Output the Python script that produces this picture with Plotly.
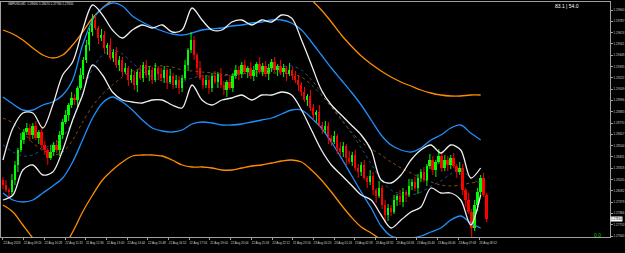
import plotly.graph_objects as go

# ---------------- data ----------------
# candles, one every 3 minutes
open_ = [1.2820,1.2815,1.2810,1.2808,1.2820,1.2835,1.2850,1.2860,1.2868,1.2872,
         1.2865,1.2874,1.2862,1.2868,1.2855,1.2850,1.2842,1.2848,1.2855,1.2850,
         1.2865,1.2878,1.2885,1.2895,1.2902,1.2900,1.2912,1.2925,1.2940,1.2955,
         1.2968,1.2980,1.2972,1.2962,1.2965,1.2952,1.2955,1.2942,1.2948,1.2935,
         1.2940,1.2928,1.2932,1.2920,1.2925,1.2915,1.2928,1.2922,1.2935,1.2925,
         1.2930,1.2920,1.2932,1.2926,1.2922,1.2930,1.2918,1.2924,1.2915,1.2920,
         1.2912,1.2922,1.2935,1.2950,1.2960,1.2945,1.2932,1.2922,1.2915,1.2920,
         1.2912,1.2924,1.2918,1.2926,1.2915,1.2910,1.2918,1.2912,1.2924,1.2930,
         1.2926,1.2935,1.2928,1.2932,1.2924,1.2930,1.2936,1.2928,1.2934,1.2926,
         1.2932,1.2938,1.2930,1.2934,1.2928,1.2932,1.2926,1.2930,1.2924,1.2920,
         1.2915,1.2908,1.2900,1.2904,1.2892,1.2885,1.2888,1.2875,1.2870,1.2874,
         1.2862,1.2858,1.2864,1.2852,1.2848,1.2854,1.2842,1.2838,1.2845,1.2832,
         1.2828,1.2835,1.2822,1.2818,1.2824,1.2810,1.2804,1.2812,1.2795,1.2785,
         1.2792,1.2788,1.2800,1.2804,1.2798,1.2808,1.2805,1.2814,1.2818,1.2812,
         1.2822,1.2828,1.2820,1.2834,1.2840,1.2830,1.2838,1.2844,1.2832,1.2840,
         1.2835,1.2842,1.2834,1.2828,1.2832,1.2810,1.2800,1.2788,1.2772,1.2795,
         1.2808,1.2822,1.2805]
close = [1.2815,1.2810,1.2808,1.2820,1.2835,1.2850,1.2860,1.2868,1.2872,1.2865,
         1.2874,1.2862,1.2868,1.2855,1.2850,1.2842,1.2848,1.2855,1.2850,1.2865,
         1.2878,1.2885,1.2895,1.2902,1.2900,1.2912,1.2925,1.2940,1.2955,1.2968,
         1.2980,1.2972,1.2962,1.2965,1.2952,1.2955,1.2942,1.2948,1.2935,1.2940,
         1.2928,1.2932,1.2920,1.2925,1.2915,1.2928,1.2922,1.2935,1.2925,1.2930,
         1.2920,1.2932,1.2926,1.2922,1.2930,1.2918,1.2924,1.2915,1.2920,1.2912,
         1.2922,1.2935,1.2950,1.2960,1.2945,1.2932,1.2922,1.2915,1.2920,1.2912,
         1.2924,1.2918,1.2926,1.2915,1.2910,1.2918,1.2912,1.2924,1.2930,1.2926,
         1.2935,1.2928,1.2932,1.2924,1.2930,1.2936,1.2928,1.2934,1.2926,1.2932,
         1.2938,1.2930,1.2934,1.2928,1.2932,1.2926,1.2930,1.2924,1.2920,1.2915,
         1.2908,1.2900,1.2904,1.2892,1.2885,1.2888,1.2875,1.2870,1.2874,1.2862,
         1.2858,1.2864,1.2852,1.2848,1.2854,1.2842,1.2838,1.2845,1.2832,1.2828,
         1.2835,1.2822,1.2818,1.2824,1.2810,1.2804,1.2812,1.2795,1.2785,1.2792,
         1.2788,1.2800,1.2804,1.2798,1.2808,1.2805,1.2814,1.2818,1.2812,1.2822,
         1.2828,1.2820,1.2834,1.2840,1.2830,1.2838,1.2844,1.2832,1.2840,1.2835,
         1.2842,1.2834,1.2828,1.2832,1.2810,1.2800,1.2788,1.2772,1.2795,1.2808,
         1.2822,1.2805,1.2781]
high = [1.2823,1.2820,1.2812,1.2826,1.2839,1.2852,1.2867,1.2871,1.2877,1.2876,
        1.2877,1.2879,1.2870,1.2874,1.2859,1.2852,1.2855,1.2858,1.2860,1.2869,
        1.2881,1.2890,1.2897,1.2908,1.2906,1.2914,1.2932,1.2943,1.2960,1.2972,
        1.2986,1.2985,1.2974,1.2971,1.2969,1.2957,1.2962,1.2951,1.2953,1.2944,
        1.2943,1.2937,1.2934,1.2931,1.2929,1.2930,1.2935,1.2938,1.2940,1.2934,
        1.2933,1.2937,1.2934,1.2932,1.2934,1.2932,1.2931,1.2927,1.2925,1.2924,
        1.2925,1.2940,1.2952,1.2968,1.2964,1.2947,1.2939,1.2925,1.2925,1.2924,
        1.2927,1.2929,1.2928,1.2932,1.2919,1.2920,1.2925,1.2927,1.2935,1.2934,
        1.2938,1.2940,1.2934,1.2938,1.2934,1.2938,1.2943,1.2937,1.2939,1.2936,
        1.2941,1.2943,1.2936,1.2940,1.2936,1.2934,1.2937,1.2933,1.2929,1.2924,
        1.2918,1.2913,1.2906,1.2910,1.2896,1.2890,1.2895,1.2878,1.2879,1.2878,
        1.2865,1.2869,1.2866,1.2858,1.2858,1.2856,1.2849,1.2848,1.2850,1.2836,
        1.2838,1.2840,1.2824,1.2830,1.2828,1.2812,1.2819,1.2815,1.2800,1.2796,
        1.2795,1.2805,1.2806,1.2810,1.2812,1.2810,1.2821,1.2821,1.2823,1.2826,
        1.2831,1.2833,1.2836,1.2846,1.2844,1.2840,1.2851,1.2847,1.2845,1.2844,
        1.2845,1.2847,1.2836,1.2838,1.2836,1.2812,1.2807,1.2791,1.2800,1.2812,
        1.2825,1.2827,1.2807]
low = [1.2811,1.2808,1.2802,1.2805,1.2815,1.2828,1.2848,1.2856,1.2865,1.2859,
       1.2861,1.2860,1.2856,1.2852,1.2845,1.2835,1.2840,1.2844,1.2847,1.2844,
       1.2861,1.2876,1.2879,1.2892,1.2895,1.2893,1.2910,1.2921,1.2937,1.2949,
       1.2964,1.2970,1.2956,1.2959,1.2947,1.2945,1.2940,1.2938,1.2932,1.2929,
       1.2924,1.2926,1.2914,1.2917,1.2910,1.2908,1.2920,1.2918,1.2922,1.2919,
       1.2916,1.2918,1.2920,1.2919,1.2917,1.2911,1.2916,1.2911,1.2912,1.2906,
       1.2908,1.2920,1.2929,1.2947,1.2940,1.2925,1.2920,1.2911,1.2912,1.2906,
       1.2908,1.2916,1.2912,1.2912,1.2905,1.2903,1.2910,1.2908,1.2921,1.2920,
       1.2922,1.2926,1.2922,1.2921,1.2919,1.2923,1.2926,1.2924,1.2923,1.2920,
       1.2928,1.2928,1.2924,1.2925,1.2923,1.2919,1.2924,1.2920,1.2917,1.2909,
       1.2904,1.2898,1.2894,1.2889,1.2880,1.2878,1.2873,1.2866,1.2867,1.2856,
       1.2854,1.2856,1.2846,1.2845,1.2843,1.2835,1.2836,1.2834,1.2829,1.2822,
       1.2824,1.2820,1.2812,1.2815,1.2805,1.2797,1.2802,1.2791,1.2777,1.2779,
       1.2784,1.2786,1.2794,1.2795,1.2793,1.2798,1.2803,1.2810,1.2809,1.2806,
       1.2818,1.2818,1.2814,1.2831,1.2825,1.2823,1.2836,1.2828,1.2829,1.2829,
       1.2831,1.2832,1.2822,1.2825,1.2805,1.2793,1.2786,1.2763,1.2769,1.2789,
       1.2804,1.2803,1.2778]

# indicator bands, one sample every 10 minutes
white_upper = [1.2840,1.2872,1.2887,1.2887,1.2872,1.2895,1.2925,1.2938,1.2970,1.2995,
               1.2985,1.2970,1.2962,1.2970,1.2975,1.2972,1.2975,1.2968,1.2970,1.2992,
               1.2980,1.2970,1.2970,1.2978,1.2980,1.2975,1.2980,1.2978,1.2985,1.2982,
               1.2960,1.2935,1.2910,1.2895,1.2885,1.2875,1.2865,1.2850,1.2820,1.2817,
               1.2825,1.2840,1.2850,1.2855,1.2847,1.2855,1.2850,1.2822,1.2832]
white_lower = [1.2800,1.2805,1.2830,1.2835,1.2825,1.2828,1.2850,1.2880,1.2905,1.2935,
               1.2925,1.2908,1.2900,1.2898,1.2897,1.2900,1.2900,1.2895,1.2892,1.2915,
               1.2900,1.2895,1.2900,1.2902,1.2905,1.2900,1.2905,1.2905,1.2908,1.2905,
               1.2890,1.2870,1.2850,1.2835,1.2825,1.2815,1.2805,1.2800,1.2785,1.2772,
               1.2780,1.2788,1.2793,1.2812,1.2807,1.2807,1.2800,1.2775,1.2805]
blue_upper = [1.2903,1.2896,1.2890,1.2890,1.2895,1.2898,1.2905,1.2920,1.2955,1.2980,
              1.2992,1.2997,1.2994,1.2984,1.2978,1.2973,1.2969,1.2966,1.2965,1.2967,
              1.2970,1.2971,1.2972,1.2974,1.2975,1.2977,1.2978,1.2980,1.2980,1.2977,
              1.2970,1.2958,1.2945,1.2932,1.2920,1.2908,1.2895,1.2880,1.2865,1.2855,
              1.2850,1.2848,1.2852,1.2860,1.2865,1.2872,1.2875,1.2867,1.2860]
blue_lower = [1.2807,1.2800,1.2798,1.2800,1.2807,1.2814,1.2822,1.2838,1.2860,1.2882,
              1.2897,1.2903,1.2898,1.2890,1.2880,1.2872,1.2869,1.2868,1.2870,1.2876,
              1.2878,1.2877,1.2875,1.2875,1.2876,1.2878,1.2880,1.2882,1.2886,1.2890,
              1.2890,1.2882,1.2872,1.2858,1.2842,1.2825,1.2808,1.2792,1.2774,1.2764,
              1.2762,1.2762,1.2764,1.2768,1.2772,1.2780,1.2784,1.2777,1.2772]
orange_upper = [1.2970,1.2966,1.2960,1.2952,1.2945,1.2942,1.2945,1.2955,1.2968,1.2982,
                1.2992,1.3000,1.3008,1.3014,1.3018,1.3022,1.3024,1.3025,1.3025,1.3024,
                1.3023,1.3022,1.3021,1.3020,1.3020,1.3019,1.3018,1.3016,1.3014,1.3012,
                1.3008,1.3000,1.2990,1.2978,1.2965,1.2954,1.2944,1.2936,1.2929,1.2923,
                1.2918,1.2914,1.2910,1.2907,1.2905,1.2904,1.2904,1.2905,1.2905]
orange_lower = [1.2795,1.2788,1.2775,1.2762,1.2752,1.2748,1.2752,1.2768,1.2788,1.2805,
                1.2820,1.2830,1.2838,1.2844,1.2845,1.2845,1.2844,1.2840,1.2835,1.2833,
                1.2833,1.2832,1.2830,1.2830,1.2832,1.2834,1.2835,1.2837,1.2839,1.2840,
                1.2838,1.2830,1.2820,1.2808,1.2795,1.2783,1.2773,1.2767,1.2760,1.2752,
                1.2746,1.2742,1.2738,1.2735,1.2733,1.2732,1.2732,1.2732,1.2732]
orange_mid = [1.2882,1.2877,1.2868,1.2857,1.2850,1.2845,1.2848,1.2860,1.2878,1.2894,
              1.2906,1.2915,1.2923,1.2929,1.2932,1.2934,1.2934,1.2933,1.2930,1.2929,
              1.2928,1.2927,1.2926,1.2925,1.2926,1.2927,1.2927,1.2927,1.2927,1.2926,
              1.2923,1.2915,1.2905,1.2893,1.2880,1.2868,1.2858,1.2851,1.2845,1.2838,
              1.2832,1.2827,1.2822,1.2818,1.2815,1.2814,1.2815,1.2817,1.2818]
blue_mid = [1.2855,1.2848,1.2844,1.2845,1.2851,1.2856,1.2863,1.2879,1.2907,1.2931,
            1.2945,1.2950,1.2946,1.2937,1.2929,1.2923,1.2919,1.2917,1.2918,1.2922,
            1.2924,1.2924,1.2924,1.2925,1.2926,1.2928,1.2929,1.2931,1.2933,1.2934,
            1.2930,1.2920,1.2908,1.2895,1.2881,1.2867,1.2852,1.2836,1.2820,1.2810,
            1.2806,1.2805,1.2808,1.2814,1.2819,1.2826,1.2830,1.2822,1.2816]

time_labels = ["22 Aug 2018", "22 Aug 09:24", "22 Aug 10:28", "22 Aug 11:32", "22 Aug 12:36",
               "22 Aug 13:40", "22 Aug 14:44", "22 Aug 15:48", "22 Aug 16:52", "22 Aug 17:56",
               "22 Aug 19:00", "22 Aug 20:04", "22 Aug 21:08", "22 Aug 22:12", "22 Aug 23:16",
               "23 Aug 00:20", "23 Aug 01:24", "23 Aug 02:28", "23 Aug 03:32", "23 Aug 04:36",
               "23 Aug 05:40", "23 Aug 06:44", "23 Aug 07:48", "23 Aug 08:52"]
price_labels = ["1.29900", "1.29787", "1.29674", "1.29561", "1.29448", "1.29335", "1.29222",
                "1.29109", "1.28996", "1.28883", "1.28770", "1.28657", "1.28544", "1.28431",
                "1.28318", "1.28205", "1.28092", "1.27979", "1.27866", "1.27753", "1.27640"]
info_text = "83.1 | 54.0"
sub_text = "0.0"

# ---------------- figure ----------------
CANDLE_STEP = 3      # minutes between candles
BAND_STEP = 10       # minutes between band samples
LABEL_STEP = 20.8    # minutes between time-axis labels
candle_x = [i * CANDLE_STEP for i in range(len(close))]
band_x = [k * BAND_STEP for k in range(len(white_upper))]

FONT = "Liberation Sans, Arial, sans-serif"
UP, DOWN = "#00ff00", "#ff0000"
fig = go.Figure()


def band(y, color, width=1.3, dash="solid"):
    fig.add_trace(go.Scatter(x=band_x, y=y, mode="lines",
                             line=dict(color=color, width=width, dash=dash,
                                       shape="spline", smoothing=0.9),
                             hoverinfo="skip", showlegend=False))


band(orange_upper, "#ff8c00")
band(orange_lower, "#ff8c00")
band(blue_upper, "#1e90ff")
band(blue_lower, "#1e90ff")
band(orange_mid, "#8b4a14", 1, "3px,3px")
band(blue_mid, "#1c4f8c", 1, "3px,3px")

# candles: wicks as line segments, bodies as floating bars
for is_up, col in ((True, UP), (False, DOWN)):
    idx = [i for i in range(len(close)) if (close[i] >= open_[i]) == is_up]
    wx, wy = [], []
    for i in idx:
        wx += [candle_x[i], candle_x[i], None]
        wy += [low[i], high[i], None]
    fig.add_trace(go.Scatter(x=wx, y=wy, mode="lines", line=dict(color=col, width=1),
                             hoverinfo="skip", showlegend=False))
    fig.add_trace(go.Bar(x=[candle_x[i] for i in idx], base=[open_[i] for i in idx],
                         y=[close[i] - open_[i] for i in idx],
                         width=1.8, marker=dict(color=col, line=dict(width=0)),
                         hoverinfo="skip", showlegend=False))

band(white_upper, "#f0f0f0")
band(white_lower, "#f0f0f0")

fig.update_layout(
    width=625, height=253,
    margin=dict(l=0, r=13, t=2, b=16),
    paper_bgcolor="black", plot_bgcolor="black",
    showlegend=False, barmode="overlay", bargap=0,
    font=dict(family=FONT, color="#d0d0d0", size=3),
    xaxis=dict(range=[-2, 610], showgrid=False, zeroline=False,
               showline=True, linecolor="#a0a0a0", linewidth=1, mirror=True,
               ticks="outside", ticklen=2, tickcolor="#a0a0a0",
               tickvals=[i * LABEL_STEP for i in range(len(time_labels))],
               ticktext=time_labels, ticklabelshift=9, ticklabelstandoff=0,
               tickfont=dict(size=3, color="#d0d0d0", family=FONT), fixedrange=True),
    yaxis=dict(range=[1.2763, 1.2998], side="right", showgrid=False, zeroline=False,
               showline=True, linecolor="#a0a0a0", linewidth=1, mirror=True,
               ticks="outside", ticklen=2, tickcolor="#a0a0a0",
               tickvals=[float(s) for s in price_labels], ticktext=price_labels,
               tickfont=dict(size=3, color="#d0d0d0", family=FONT),
               ticklabelstandoff=0, fixedrange=True),
)

title = "GBPUSD,M1  {:.5f} {:.5f} {:.5f} {:.5f}".format(open_[-1], high[-1], low[-1], close[-1])
fig.add_annotation(xref="paper", yref="paper", x=0.008, y=0.99, xanchor="left", yanchor="middle",
                   text=title, showarrow=False, font=dict(size=3, color="#e0e0e0", family=FONT))
fig.add_annotation(xref="paper", yref="paper", x=0.952, y=0.985, xanchor="right", yanchor="middle",
                   text=info_text, showarrow=False, font=dict(size=5, color="#ffffff", family=FONT))
fig.add_annotation(xref="paper", yref="paper", x=0.98, y=0.01, xanchor="center", yanchor="middle",
                   text=sub_text, showarrow=False, font=dict(size=5, color="#00d000", family=FONT))
fig.add_annotation(xref="paper", yref="y", x=1.0, y=close[-1], xanchor="left", yanchor="middle",
                   text="{:.5f}".format(close[-1]), showarrow=False, bgcolor="#ffffff",
                   borderpad=0, font=dict(size=3, color="#000000", family=FONT))

fig.write_html("out.html")
